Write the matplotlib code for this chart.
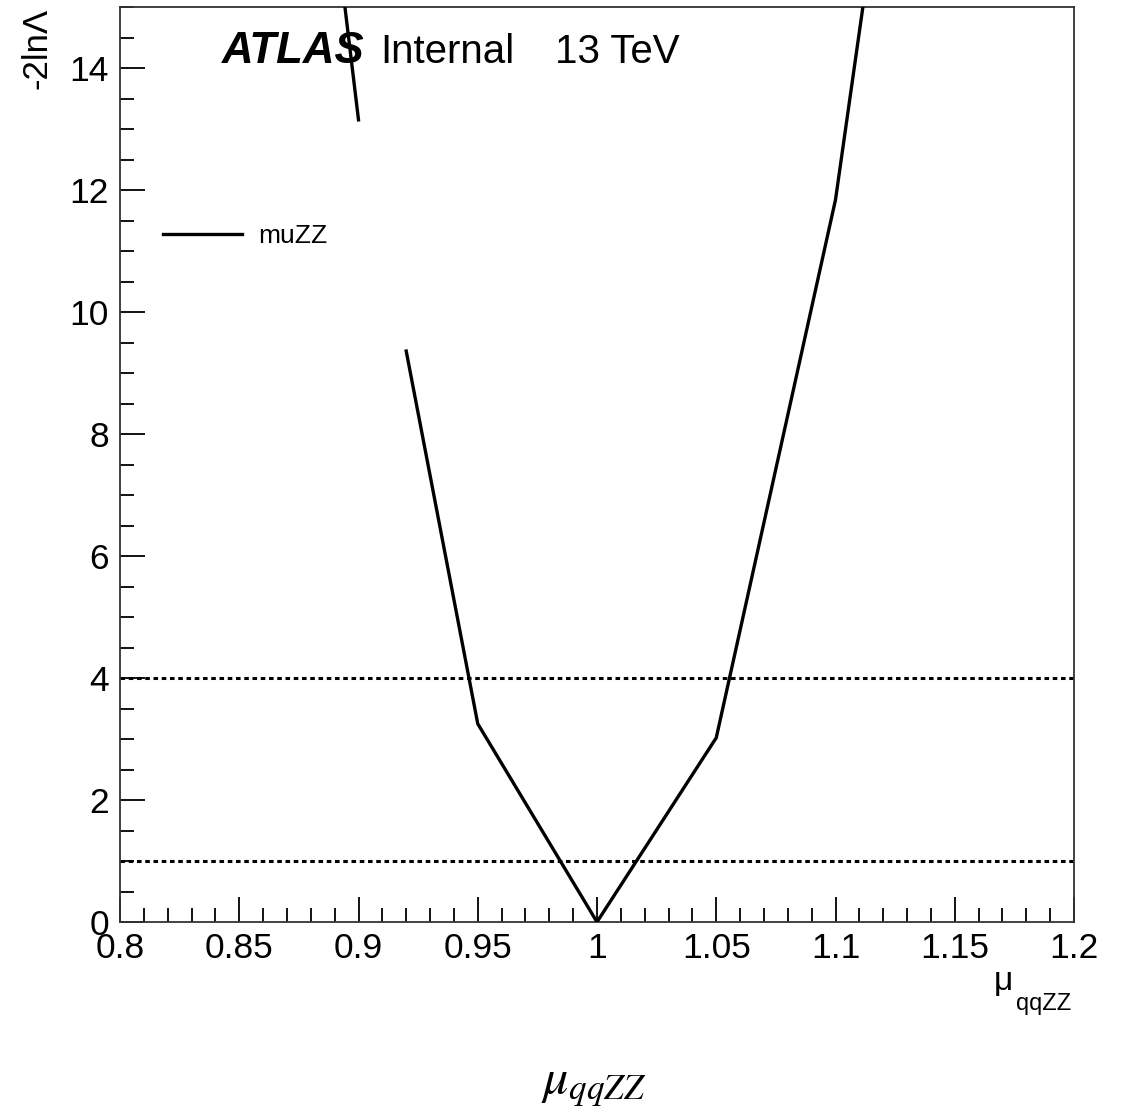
import numpy as np
import matplotlib
matplotlib.use("Agg")
import matplotlib.pyplot as plt
from matplotlib.ticker import MultipleLocator

# ---- data ----
mu_qqZZ = [0.89, 0.90, 0.91, 0.92, 0.95, 1.00, 1.05, 1.10, 1.15]
nll_scan = [16.4, 13.15, np.nan, 9.36, 3.25, 0.0, 3.02, 11.84, 25.6]
ref_levels = [4.0, 1.0]
series_label = "muZZ"

plt.rcParams['font.family'] = ['Liberation Sans', 'DejaVu Sans']

W, H = 1125, 1110
fig = plt.figure(figsize=(W / 100, H / 100), dpi=100)
fig.patch.set_facecolor('white')

def fx(px):
    return px / W

def fy(py):
    return 1 - py / H

left, right, top, bottom = 120, 1074, 7, 922
ax = fig.add_axes([fx(left), fy(bottom), (right - left) / W, (bottom - top) / H])

ax.set_xlim(0.8, 1.2)
ax.set_ylim(0, 15)

for lvl in ref_levels:
    ax.axhline(lvl, color='black', lw=2.2, ls=(0, (1.5, 1.2)), dash_capstyle='butt', zorder=2)

ax.plot(mu_qqZZ, nll_scan, color='black', lw=2.4, label=series_label, zorder=3)

ax.xaxis.set_major_locator(MultipleLocator(0.05))
ax.xaxis.set_minor_locator(MultipleLocator(0.01))
ax.yaxis.set_major_locator(MultipleLocator(2))
ax.yaxis.set_minor_locator(MultipleLocator(0.5))

def xfmt(v, pos):
    s = f"{v:.2f}".rstrip('0').rstrip('.')
    return s
ax.xaxis.set_major_formatter(plt.FuncFormatter(xfmt))
ax.yaxis.set_major_formatter(plt.FuncFormatter(lambda v, p: f"{v:.0f}"))

ax.tick_params(axis='both', which='both', direction='in', top=False, right=False, width=1.3, colors='black')
ax.tick_params(axis='both', which='major', length=18, labelsize=25.5)
ax.tick_params(axis='both', which='minor', length=10)
ax.tick_params(axis='x', which='major', pad=7)
ax.tick_params(axis='y', which='major', pad=8)

for sp in ax.spines.values():
    sp.set_linewidth(1.3)
    sp.set_color('#333333')

# legend
ax.legend(loc='center left', bbox_to_anchor=(fx(163), fy(236)), bbox_transform=fig.transFigure,
          frameon=False, fontsize=19, handlelength=3.0, handletextpad=0.6,
          borderpad=0, borderaxespad=0)

# ATLAS label
fig.text(fx(222), fy(63), "ATLAS", fontsize=31.5, fontweight='bold', style='italic', va='baseline', ha='left')
fig.text(fx(380), fy(63), "Internal", fontsize=29, va='baseline', ha='left')
fig.text(fx(555), fy(63), "13 TeV", fontsize=29, va='baseline', ha='left')

# y axis title
fig.text(fx(37), fy(8), "-2ln\u039b", rotation=90, fontsize=25, ha='center', va='top')

# ROOT x axis title
fig.text(fx(994), fy(990), "\u03bc", fontsize=24, ha='left', va='baseline')
fig.text(fx(1016), fy(1010), "qqZZ", fontsize=17, ha='left', va='baseline')

# bottom caption
fig.text(fx(594), fy(1086), r"$\mu_{qqZZ}$", fontsize=36, ha='center', va='center', math_fontfamily='stix')

fig.savefig("out.png", dpi=100, facecolor='white')
